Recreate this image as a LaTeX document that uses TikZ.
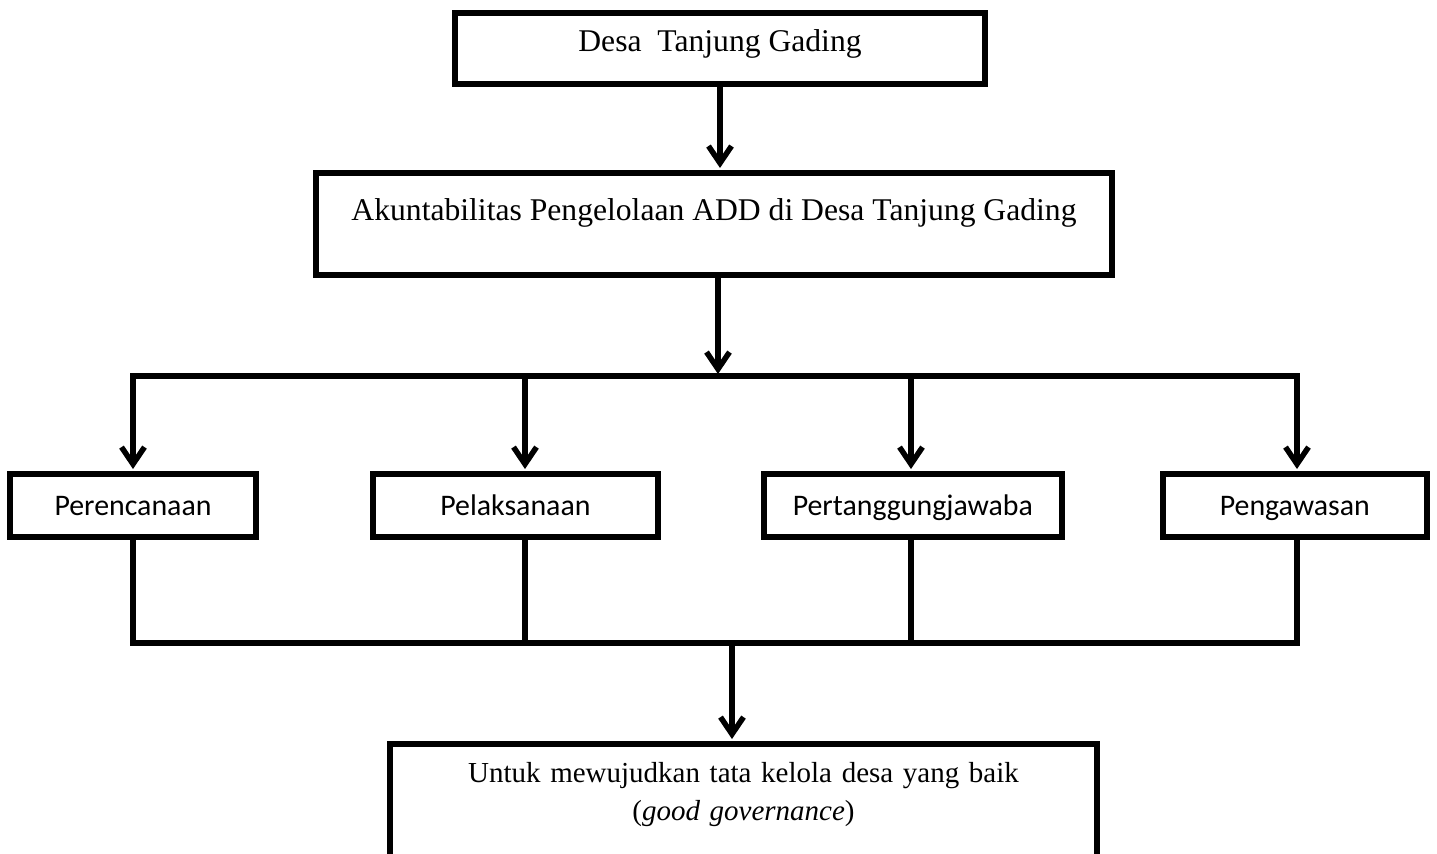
\documentclass[tikz,border=0pt]{standalone}
\usepackage{fontspec}
\usetikzlibrary{arrows.meta}
\setmainfont{Liberation Serif}
\newfontfamily\boxsans{Carlito}
\begin{document}
\begin{tikzpicture}[x=0.02cm, y=-0.02cm,
        box/.style={draw, line width=0.12cm, inner sep=0pt},
        serif/.style={font=\fontsize{18}{21.6}\selectfont},
        sans/.style={box, font=\boxsans\fontsize{17}{20}\selectfont, minimum height=1.26cm, text height=11pt, text depth=0pt},
        wire/.style={line width=0.11cm, line cap=rect},
        flow/.style={line width=0.11cm, -{Straight Barb[length=0.34cm, width=0.46cm]}, shorten >=0.04cm}]
            \useasboundingbox (0,0) rectangle (1437,854);
            
            \node (1) [box, serif, minimum width=10.6cm, text height=0.78cm, text depth=0.64cm] at (720,48.5) {Desa\ \ Tanjung Gading};
            \node (2) [box, serif, minimum width=15.92cm, text height=0.96cm, text depth=1.08cm, node distance=3.51cm, below of=1, xshift=-0.12cm] {Akuntabilitas Pengelolaan ADD di Desa Tanjung Gading};
            
            \node (3) [sans, minimum width=4.92cm] at (133,505.5) {Perencanaan};
            \node (4) [sans, minimum width=5.7cm, node distance=7.65cm, right of=3] {Pelaksanaan};
            \node (5) [sans, minimum width=5.96cm, node distance=7.95cm, right of=4] {Pertanggungjawaba};
            \node (6) [sans, minimum width=5.28cm, node distance=7.64cm, right of=5] {Pengawasan};
            
            \node (7) [box, font=\fontsize{16.5}{21.6}\selectfont, anchor=north, text width=14.14cm, align=center, text height=0.78cm, text depth=3cm] at (743.5,741) {Untuk mewujudkan tata kelola desa yang baik\\(\textit{good governance})};
            
            \coordinate (a) at (718,376);
            \coordinate (b1) at (133,376);
            \coordinate (b2) at (525,376);
            \coordinate (b3) at (911,376);
            \coordinate (b4) at (1297,376);
            \coordinate (j1) at (133,643);
            \coordinate (j2) at (525,643);
            \coordinate (j3) at (911,643);
            \coordinate (j4) at (1297,643);
            \coordinate (m) at (732,643);
            
            \draw [flow] (1.south) -- (1.south |- 2.north);
            \draw [flow] (a |- 2.south) -- (a);
            
            \draw [wire] (b1) -- (b4);
            \draw [flow] (b1) -- (b1 |- 3.north);
            \draw [flow] (b2) -- (b2 |- 4.north);
            \draw [flow] (b3) -- (b3 |- 5.north);
            \draw [flow] (b4) -- (b4 |- 6.north);
            
            \draw [wire] (j1 |- 3.south) -- (j1);
            \draw [wire] (j2 |- 4.south) -- (j2);
            \draw [wire] (j3 |- 5.south) -- (j3);
            \draw [wire] (j4 |- 6.south) -- (j4);
            \draw [wire] (j1) -- (j4);
            
            \draw [flow] (m) -- (m |- 7.north);
        \end{tikzpicture}
\end{document}
